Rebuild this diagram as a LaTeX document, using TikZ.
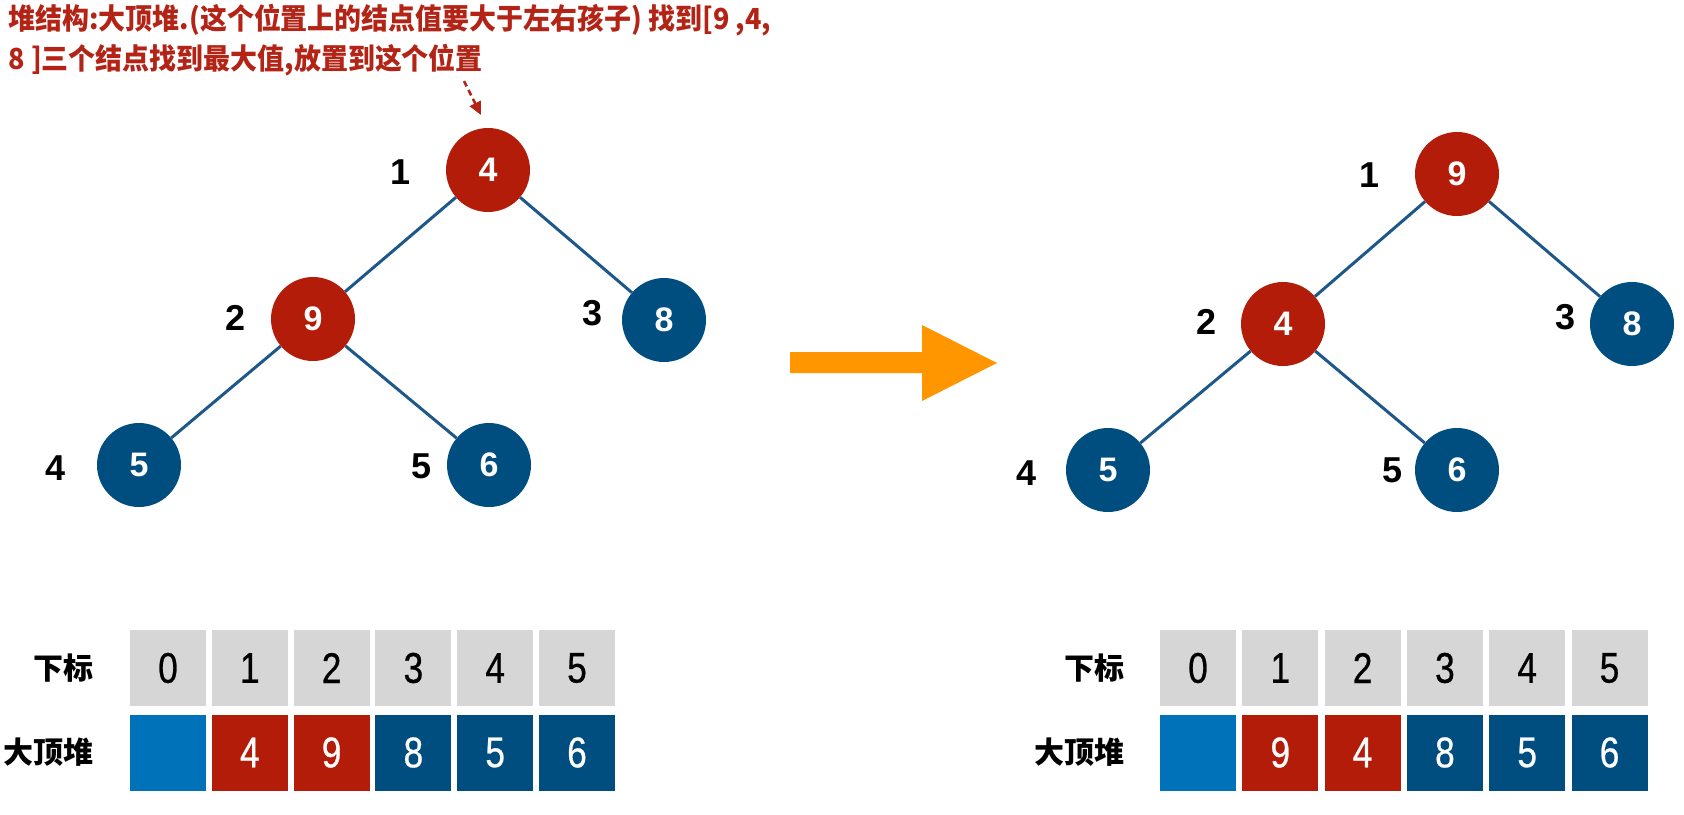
\documentclass[tikz,border=0pt]{standalone}
\usepackage{fontspec}
\setmainfont{Liberation Sans}
\newfontfamily\cjk{Noto Sans CJK SC}
\newfontfamily\cjknote[FakeStretch=0.93]{Noto Sans CJK SC}
\newfontfamily\narrowsans[FakeStretch=0.82, FakeBold=0.6]{Liberation Sans}
\usepackage{tikz}
\usetikzlibrary{arrows.meta}
\definecolor{heapred}{RGB}{180,28,10}
\definecolor{heapblue}{RGB}{0,78,128}
\definecolor{slotblue}{RGB}{0,114,185}
\definecolor{slotgray}{RGB}{214,214,214}
\definecolor{edgeblue}{RGB}{30,88,138}
\definecolor{noteorange}{RGB}{255,150,0}
\definecolor{notered}{RGB}{180,36,22}
\tikzset{
  heapnode/.style={circle, minimum size=84pt, inner sep=0pt, text=white,
                   font=\fontsize{34}{34}\selectfont\bfseries},
  rednode/.style={heapnode, fill=heapred},
  bluenode/.style={heapnode, fill=heapblue},
  poslbl/.style={font=\fontsize{36}{36}\selectfont\bfseries},
  edge/.style={draw=edgeblue, line width=3pt},
  cell/.style={minimum width=76pt, minimum height=76pt, inner sep=0pt,
               font=\narrowsans\fontsize{43}{43}\selectfont},
  rowlbl/.style={anchor=east, font=\cjk\bfseries\fontsize{30}{30}\selectfont},
}

\begin{document}
\begin{tikzpicture}[x=1pt, y=-1pt,
  note/.style={anchor=north west, align=left, text=notered,
               font=\cjknote\bfseries\fontsize{29}{40}\selectfont},
  hint/.style={draw=notered, line width=2.5pt, dash pattern=on 6pt off 4pt,
               -{Triangle[length=13pt, width=12pt]}},
]
  \useasboundingbox (0,0) rectangle (1684,814);

  % Note
  \node[note] (note) at (5,1) {堆结构:大顶堆.(这个位置上的结点值要大于左右孩子) 找到[9 ,4,\\8 ]三个结点找到最大值,放置到这个位置};
  \coordinate (hintA) at (464,81);
  \coordinate (hintB) at (481,115);
  \draw[hint] (hintA) -- (hintB);

  % Tree before
  \node[rednode]  (a1) at (488,170) {4};
  \node[rednode]  (a2) at (313,319) {9};
  \node[bluenode] (a3) at (664,320) {8};
  \node[bluenode] (a4) at (139,465) {5};
  \node[bluenode] (a5) at (489,465) {6};
  \draw[edge] (a1) -- (a2);
  \draw[edge] (a1) -- (a3);
  \draw[edge] (a2) -- (a4);
  \draw[edge] (a2) -- (a5);
  \node[poslbl] (pa1) at (401,172) {1};
  \node[poslbl] (pa2) at (236,318) {2};
  \node[poslbl] (pa3) at (593,313) {3};
  \node[poslbl] (pa4) at (56,468)  {4};
  \node[poslbl] (pa5) at (422,466) {5};

  % Swap arrow
  \fill[noteorange] (790,352) -- (922,352) -- (922,325) -- (997,363)
        -- (922,401) -- (922,373) -- (790,373) -- cycle;

  % Tree after
  \node[rednode]  (b1) at (1457,174) {9};
  \node[rednode]  (b2) at (1283,324) {4};
  \node[bluenode] (b3) at (1632,324) {8};
  \node[bluenode] (b4) at (1108,470) {5};
  \node[bluenode] (b5) at (1457,470) {6};
  \draw[edge] (b1) -- (b2);
  \draw[edge] (b1) -- (b3);
  \draw[edge] (b2) -- (b4);
  \draw[edge] (b2) -- (b5);
  \node[poslbl] (pb1) at (1369,175) {1};
  \node[poslbl] (pb2) at (1206,322) {2};
  \node[poslbl] (pb3) at (1565,317) {3};
  \node[poslbl] (pb4) at (1026,473) {4};
  \node[poslbl] (pb5) at (1392,470) {5};

  % Arrays
  \node[rowlbl] (ia) at (97,668)   {下标};
  \node[rowlbl] (va) at (97,752)   {大顶堆};
  \node[rowlbl] (ib) at (1128,668) {下标};
  \node[rowlbl] (vb) at (1128,752) {大顶堆};
  \foreach \i/\v/\c in {0//slotblue, 1/4/heapred, 2/9/heapred, 3/8/heapblue, 4/5/heapblue, 5/6/heapblue}{
    \node[cell, fill=slotgray] (ia\i) at (168+81.8*\i,668) {\i};
    \node[cell, fill=\c, text=white] (va\i) at (168+81.8*\i,752.5) {\v};
  }
  \foreach \i/\v/\c in {0//slotblue, 1/9/heapred, 2/4/heapred, 3/8/heapblue, 4/5/heapblue, 5/6/heapblue}{
    \node[cell, fill=slotgray] (ib\i) at (1198+82.3*\i,668) {\i};
    \node[cell, fill=\c, text=white] (vb\i) at (1198+82.3*\i,752.5) {\v};
  }
\end{tikzpicture}
\end{document}
